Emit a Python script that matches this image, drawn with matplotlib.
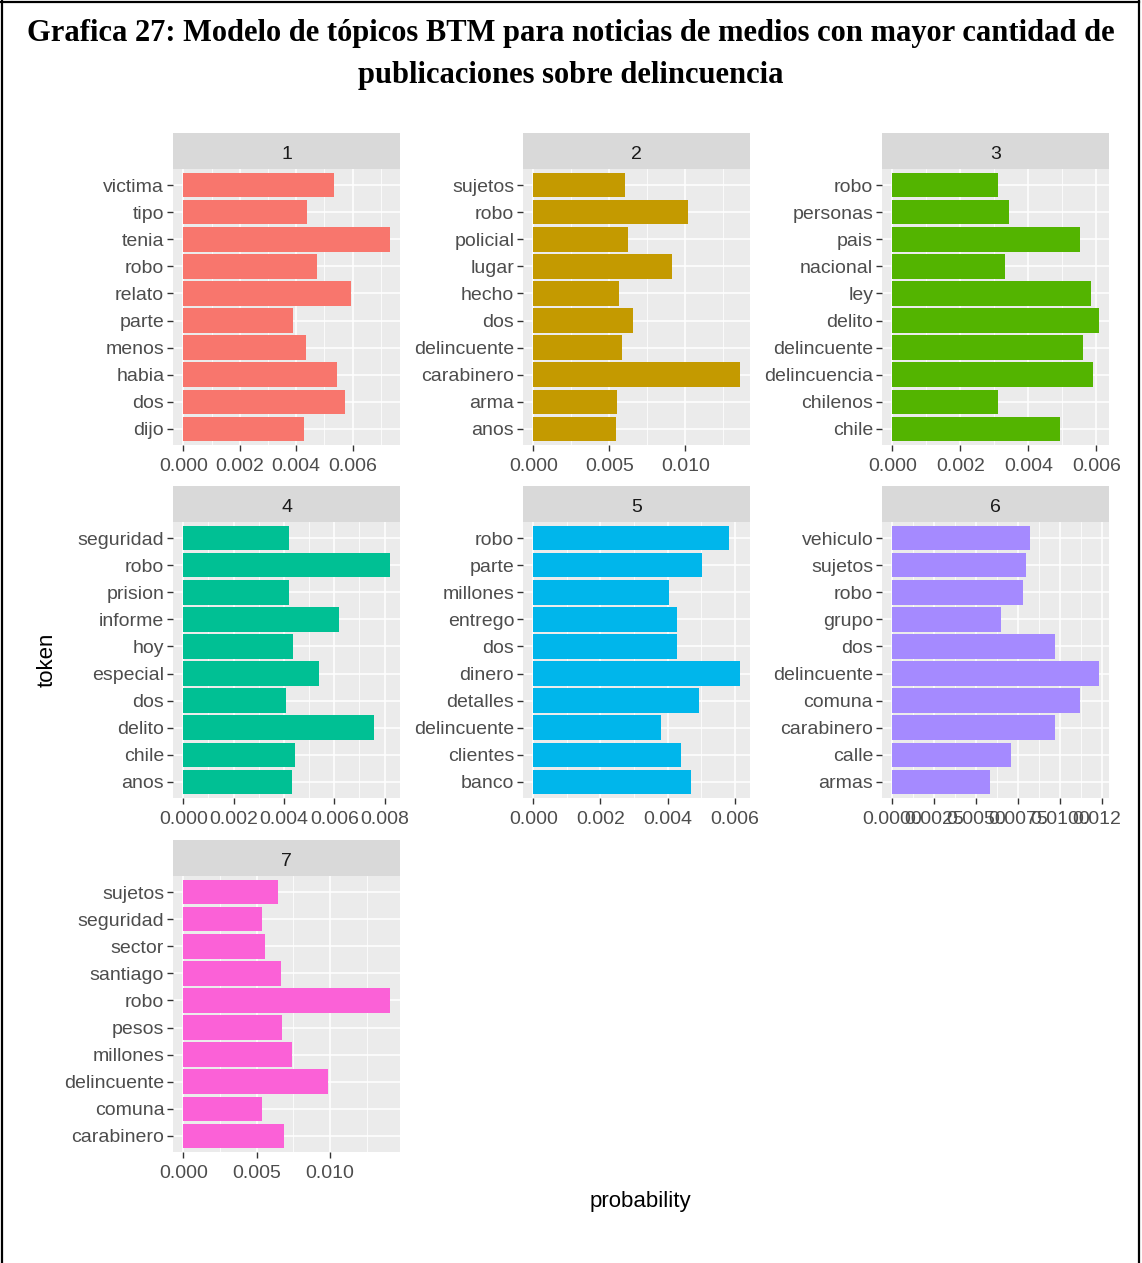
import numpy as np
import matplotlib
matplotlib.use("Agg")
import matplotlib.pyplot as plt
from matplotlib.ticker import MultipleLocator, FormatStrFormatter
from matplotlib.transforms import Bbox, TransformedBbox
from matplotlib.lines import Line2D

plt.rcParams['font.family'] = ['Liberation Sans', 'DejaVu Sans']

# tokens per topic, bottom to top (alphabetical as in the original)
tokens_1 = ['dijo', 'dos', 'habia', 'menos', 'parte', 'relato', 'robo', 'tenia', 'tipo', 'victima']
prob_1 = [0.00426, 0.00572, 0.00543, 0.00433, 0.00387, 0.00593, 0.00472, 0.00731, 0.00437, 0.00533]

tokens_2 = ['anos', 'arma', 'carabinero', 'delincuente', 'dos', 'hecho', 'lugar', 'policial', 'robo', 'sujetos']
prob_2 = [0.00543, 0.00552, 0.01357, 0.00584, 0.00657, 0.00563, 0.00913, 0.00624, 0.01018, 0.00602]

tokens_3 = ['chile', 'chilenos', 'delincuencia', 'delincuente', 'delito', 'ley', 'nacional', 'pais', 'personas', 'robo']
prob_3 = [0.00492, 0.00312, 0.00589, 0.00562, 0.00607, 0.00585, 0.00330, 0.00552, 0.00344, 0.00312]

tokens_4 = ['anos', 'chile', 'delito', 'dos', 'especial', 'hoy', 'informe', 'prision', 'robo', 'seguridad']
prob_4 = [0.00432, 0.00444, 0.00759, 0.00407, 0.00539, 0.00437, 0.00620, 0.00419, 0.00820, 0.00419]

tokens_5 = ['banco', 'clientes', 'delincuente', 'detalles', 'dinero', 'dos', 'entrego', 'millones', 'parte', 'robo']
prob_5 = [0.00470, 0.00441, 0.00381, 0.00493, 0.00615, 0.00429, 0.00429, 0.00405, 0.00503, 0.00582]

tokens_6 = ['armas', 'calle', 'carabinero', 'comuna', 'delincuente', 'dos', 'grupo', 'robo', 'sujetos', 'vehiculo']
prob_6 = [0.00584, 0.00707, 0.00968, 0.01116, 0.01228, 0.00968, 0.00649, 0.00780, 0.00798, 0.00818]

tokens_7 = ['carabinero', 'comuna', 'delincuente', 'millones', 'pesos', 'robo', 'santiago', 'sector', 'seguridad', 'sujetos']
prob_7 = [0.00686, 0.00535, 0.00988, 0.00739, 0.00675, 0.01407, 0.00664, 0.00556, 0.00535, 0.00643]

topics = ['1', '2', '3', '4', '5', '6', '7']
all_tokens = [tokens_1, tokens_2, tokens_3, tokens_4, tokens_5, tokens_6, tokens_7]
all_probs = [prob_1, prob_2, prob_3, prob_4, prob_5, prob_6, prob_7]

# x tick spacing and label decimals per panel
tick_step = [0.002, 0.005, 0.002, 0.002, 0.002, 0.0025, 0.005]
tick_fmt = ['%.3f', '%.3f', '%.3f', '%.3f', '%.3f', '%.4f', '%.3f']

colors = ['#F8766D', '#C49A00', '#53B400', '#00C094', '#00B6EB', '#A58AFF', '#FB61D7']

W, H = 1142, 1263
fig = plt.figure(figsize=(W / 100, H / 100), dpi=100)

def px_rect(x0, y0, x1, y1):
    return [x0 / W, 1 - y1 / H, (x1 - x0) / W, (y1 - y0) / H]

col_left = [173, 523, 882]
row_top = [169, 522, 876]
pw, ph, sh = 227, 276, 36

# the original image is cut just right of the last panel
clip = TransformedBbox(Bbox([[0, 0], [1120 / W, 1]]), fig.transFigure)

for i, (name, toks, vals) in enumerate(zip(topics, all_tokens, all_probs)):
    r, c = divmod(i, 3)
    x0, y0 = col_left[c], row_top[r]
    ax = fig.add_axes(px_rect(x0, y0, x0 + pw, y0 + ph))
    ax.set_facecolor('#EBEBEB')
    pos = np.arange(len(toks))
    ax.barh(pos, vals, height=0.9, color=colors[i], zorder=3)
    ax.use_sticky_edges = False
    ax.margins(x=0.05)
    ax.set_ylim(-0.6, len(toks) - 0.4)
    ax.set_yticks(pos)
    ax.set_yticklabels(toks)
    ax.xaxis.set_major_locator(MultipleLocator(tick_step[i]))
    ax.xaxis.set_minor_locator(MultipleLocator(tick_step[i] / 2))
    ax.xaxis.set_major_formatter(FormatStrFormatter(tick_fmt[i]))
    ax.grid(which='major', color='white', linewidth=1.1, zorder=1)
    ax.grid(which='minor', axis='x', color='white', linewidth=0.55, zorder=1)
    ax.set_axisbelow(True)
    for s in ax.spines.values():
        s.set_visible(False)
    ax.tick_params(which='major', length=4.3, width=1, color='#333333',
                   labelcolor='#4D4D4D', labelsize=14, pad=2)
    ax.tick_params(axis='x', which='major', pad=5)
    ax.tick_params(which='minor', length=0)
    fig.canvas.draw()
    for lab in ax.get_xticklabels():
        lab.set_clip_on(True)
        lab.set_clip_box(clip)

    sax = fig.add_axes(px_rect(x0, y0 - sh, x0 + pw, y0))
    sax.set_facecolor('#D9D9D9')
    sax.set_xticks([])
    sax.set_yticks([])
    for s in sax.spines.values():
        s.set_visible(False)
    sax.text(0.5, 0.4, name, ha='center', va='center', fontsize=14,
             color='#1A1A1A', transform=sax.transAxes)

fig.text(47 / W, 1 - 660 / H, 'token', rotation=90, ha='center', va='center',
         fontsize=16, color='black')
fig.text(640 / W, 1 - 1201 / H, 'probability', ha='center', va='center',
         fontsize=16, color='black')

title_kw = dict(ha='center', va='center', fontsize=22, fontweight='bold',
                family=['Liberation Serif', 'DejaVu Serif'], color='black')
fig.text(571 / W, 1 - 34 / H,
         'Grafica 27: Modelo de tópicos BTM para noticias de medios con mayor cantidad de',
         **title_kw)
fig.text(571 / W, 1 - 76 / H, 'publicaciones sobre delincuencia', **title_kw)

# document frame
for xs, ys in [([2, 2], [0, H + 5]), ([0, W - 3], [1.5, 1.5]), ([W - 3.5, W - 3.5], [0, H + 5])]:
    fig.add_artist(Line2D([x / W for x in xs], [1 - y / H for y in ys],
                          color='black', linewidth=1.6, transform=fig.transFigure))

fig.savefig('out.png', dpi=100)
